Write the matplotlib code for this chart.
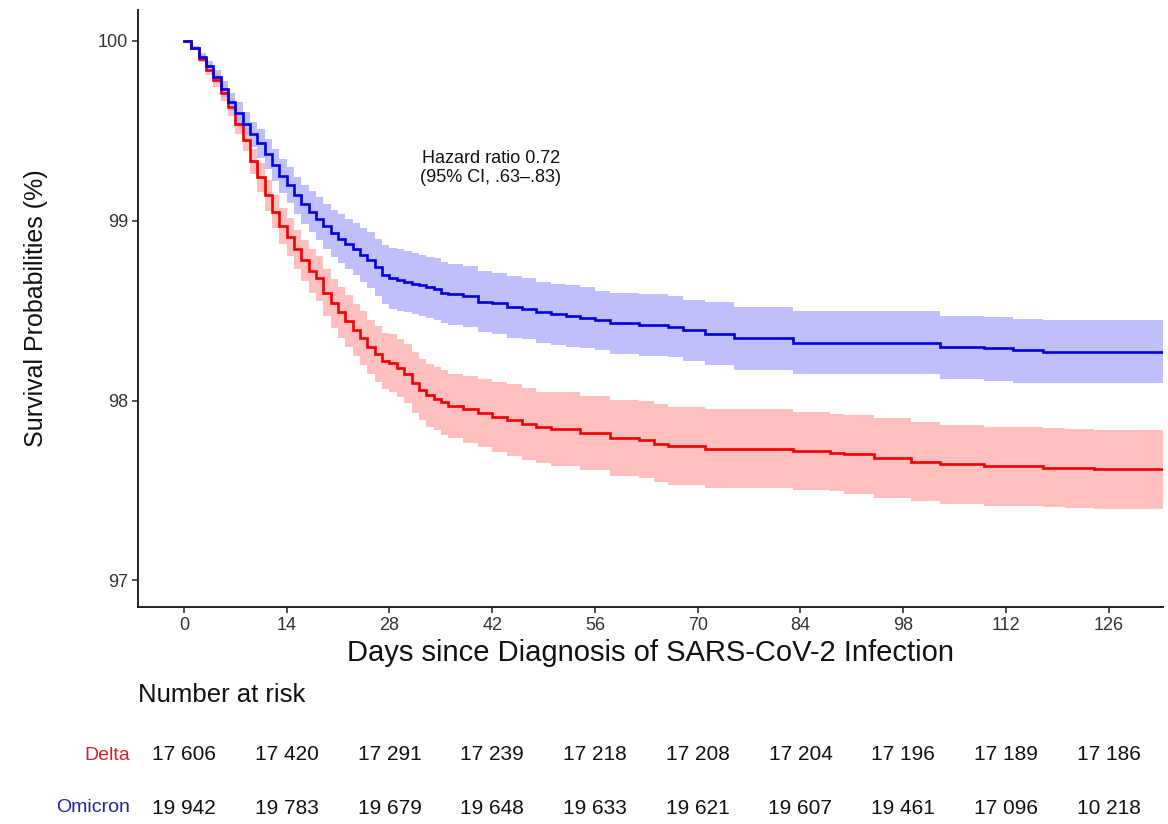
import matplotlib
matplotlib.use("Agg")
import matplotlib.pyplot as plt
from matplotlib.transforms import blended_transform_factory

plt.rcParams['font.family'] = ['Liberation Sans', 'DejaVu Sans']

# ---------------- data ----------------
x_ticks = [0, 14, 28, 42, 56, 70, 84, 98, 112, 126]
y_ticks = [97, 98, 99, 100]

days_omicron = list(range(0, 37)) + [38, 40, 42, 44, 46, 48, 50, 52, 54, 56, 58, 62, 66, 68, 71, 75, 83, 103, 109, 113, 117]
surv_omicron = [100.00, 99.96, 99.91, 99.86, 99.80, 99.73, 99.66, 99.60, 99.54, 99.48, 99.43, 99.37, 99.31, 99.25,
                99.20, 99.14, 99.09, 99.05, 99.01, 98.97, 98.93, 98.90, 98.87, 98.84, 98.81, 98.78, 98.74, 98.70,
                98.68, 98.67, 98.66, 98.65, 98.64, 98.63, 98.62, 98.60, 98.59,
                98.58, 98.55, 98.54, 98.52, 98.51, 98.49, 98.48, 98.47, 98.46, 98.45, 98.43, 98.42, 98.41, 98.39,
                98.37, 98.35, 98.32, 98.30, 98.29, 98.28, 98.27]
upper_omicron = [100.00, 99.97, 99.93, 99.89, 99.835, 99.775, 99.71, 99.66, 99.605, 99.55, 99.51, 99.455, 99.40, 99.345,
                 99.30, 99.245, 99.20, 99.165, 99.13, 99.095, 99.06, 99.035, 99.01, 98.985, 98.96, 98.935, 98.90, 98.865,
                 98.85, 98.84, 98.83, 98.82, 98.81, 98.80, 98.79, 98.77, 98.76,
                 98.75, 98.72, 98.71, 98.69, 98.68, 98.66, 98.65, 98.64, 98.63, 98.61, 98.60, 98.59, 98.58, 98.56,
                 98.545, 98.52, 98.495, 98.47, 98.465, 98.455, 98.45]
lower_omicron = [100.00, 99.95, 99.89, 99.83, 99.765, 99.685, 99.61, 99.54, 99.475, 99.41, 99.35, 99.285, 99.22, 99.155,
                 99.10, 99.035, 98.98, 98.935, 98.89, 98.845, 98.80, 98.765, 98.73, 98.695, 98.66, 98.625, 98.58, 98.535,
                 98.51, 98.50, 98.49, 98.48, 98.47, 98.46, 98.45, 98.43, 98.42,
                 98.41, 98.38, 98.37, 98.35, 98.34, 98.32, 98.31, 98.30, 98.29, 98.28, 98.26, 98.25, 98.24, 98.22,
                 98.20, 98.17, 98.145, 98.12, 98.11, 98.10, 98.10]

days_delta = list(range(0, 37)) + [38, 40, 42, 44, 46, 48, 50, 54, 58, 62, 64, 66, 71, 83, 88, 90, 94, 99, 103, 109, 117, 120, 124]
surv_delta = [100.00, 99.96, 99.90, 99.84, 99.78, 99.71, 99.63, 99.54, 99.45, 99.33, 99.24, 99.14, 99.05, 98.97,
              98.91, 98.84, 98.78, 98.72, 98.68, 98.60, 98.54, 98.49, 98.44, 98.39, 98.35, 98.30, 98.26, 98.22,
              98.21, 98.18, 98.15, 98.10, 98.06, 98.03, 98.01, 97.99, 97.97,
              97.95, 97.93, 97.91, 97.89, 97.87, 97.85, 97.84, 97.82, 97.79, 97.78, 97.76, 97.745, 97.73, 97.72,
              97.71, 97.70, 97.68, 97.66, 97.645, 97.635, 97.627, 97.622, 97.618]
upper_delta = [100.00, 99.97, 99.92, 99.87, 99.815, 99.755, 99.68, 99.60, 99.515, 99.40, 99.32, 99.225, 99.14, 99.07,
               99.015, 98.95, 98.895, 98.84, 98.805, 98.73, 98.675, 98.63, 98.585, 98.535, 98.50, 98.45, 98.415, 98.375,
               98.37, 98.34, 98.315, 98.27, 98.23, 98.205, 98.185, 98.17, 98.15,
               98.135, 98.12, 98.105, 98.09, 98.07, 98.05, 98.045, 98.025, 98.005, 97.995, 97.98, 97.965, 97.95, 97.935,
               97.925, 97.92, 97.90, 97.88, 97.865, 97.855, 97.847, 97.842, 97.838]
lower_delta = [100.00, 99.95, 99.88, 99.81, 99.745, 99.665, 99.58, 99.48, 99.385, 99.26, 99.16, 99.055, 98.96, 98.87,
               98.805, 98.73, 98.665, 98.60, 98.555, 98.47, 98.405, 98.35, 98.295, 98.245, 98.20, 98.15, 98.105, 98.065,
               98.05, 98.02, 97.985, 97.93, 97.89, 97.855, 97.835, 97.81, 97.79,
               97.765, 97.74, 97.715, 97.69, 97.67, 97.65, 97.635, 97.615, 97.58, 97.57, 97.545, 97.53, 97.515, 97.505,
               97.495, 97.48, 97.46, 97.44, 97.425, 97.415, 97.407, 97.402, 97.398]

groups = ["Delta", "Omicron"]
risk_delta = [17606, 17420, 17291, 17239, 17218, 17208, 17204, 17196, 17189, 17186]
risk_omicron = [19942, 19783, 19679, 19648, 19633, 19621, 19607, 19461, 17096, 10218]

hr_text = "Hazard ratio 0.72\n(95% CI, .63\u2013.83)"

# ---------------- figure ----------------
W, H = 1168, 824
fig = plt.figure(figsize=(W / 100, H / 100), dpi=100)
ax_l, ax_r, ax_t, ax_b = 138, 1163, 10, 607
ax = fig.add_axes([ax_l / W, 1 - ax_b / H, (ax_r - ax_l) / W, (ax_b - ax_t) / H])

x_min, x_max = -6.27, 133.4
y_min, y_max = 96.852, 100.171
ax.set_xlim(x_min, x_max)
ax.set_ylim(y_min, y_max)

series = [
    (days_delta, surv_delta, lower_delta, upper_delta, "#f00000", "#ffb0b0"),
    (days_omicron, surv_omicron, lower_omicron, upper_omicron, "#0000dd", "#b0b0fa"),
]
for d, s, lo, up, lc, fc in series:
    xs = list(d) + [x_max]
    los = list(lo) + [lo[-1]]
    ups = list(up) + [up[-1]]
    ax.fill_between(xs, los, ups, step="post", color=fc, alpha=0.8, linewidth=0, zorder=1)
for d, s, lo, up, lc, fc in series:
    xs = list(d) + [x_max]
    ys = list(s) + [s[-1]]
    ax.plot(xs, ys, drawstyle="steps-post", color=lc, linewidth=1.9, zorder=3,
            solid_joinstyle="miter")

ax.set_xticks(x_ticks)
ax.set_yticks(y_ticks)
ax.set_yticklabels([str(v) for v in y_ticks])
for side in ("top", "right"):
    ax.spines[side].set_visible(False)
for side in ("left", "bottom"):
    ax.spines[side].set_linewidth(1.4)
    ax.spines[side].set_color("#222222")
ax.tick_params(axis="both", length=4, width=1.2, color="#333333",
               labelsize=13, labelcolor="#333333", pad=3)

ax.set_xlabel("Days since Diagnosis of SARS-CoV-2 Infection", fontsize=21, color="#111111", labelpad=4)
ax.set_ylabel("Survival Probabilities (%)", fontsize=18, color="#111111", labelpad=36)

fig.text(491 / W, 1 - 168 / H, hr_text, fontsize=13, ha="center", va="center",
         color="#111111", linespacing=1.1)

# Risk table
fig.text(ax_l / W, 1 - 695 / H, "Number at risk", fontsize=18.5, ha="left", va="center", color="#111111")
trans = blended_transform_factory(ax.transData, fig.transFigure)
rows = [(risk_delta, 755, "#d62030"), (risk_omicron, 808, "#2323a8")]
for (name, (vals, ypx, col)) in zip(groups, rows):
    fig.text(130 / W, 1 - ypx / H, name, fontsize=14, ha="right", va="center", color=col)
    for xv, n in zip(x_ticks, vals):
        ax.text(xv, 1 - ypx / H, f"{n:,}".replace(",", " "), transform=trans,
                fontsize=15, ha="center", va="center", color="#111111", clip_on=False)

fig.savefig("out.png", dpi=100, facecolor="white")
